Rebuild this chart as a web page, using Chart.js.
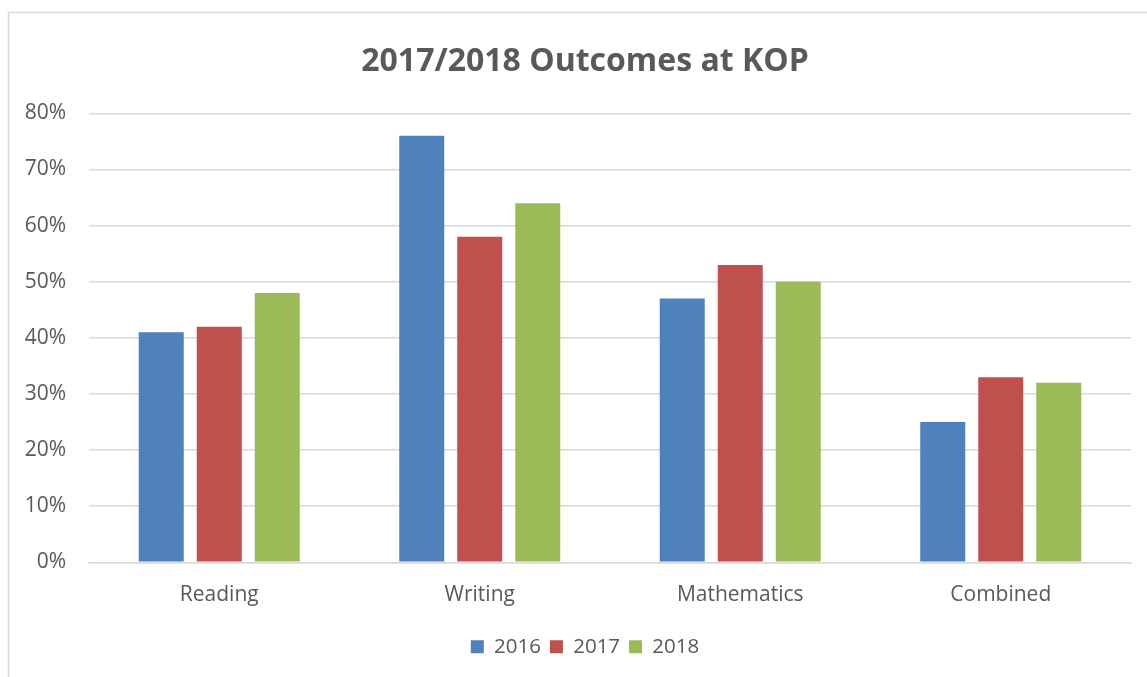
<!DOCTYPE html>
<html>
<head>
<meta charset="utf-8">
<script src="https://cdn.jsdelivr.net/npm/chart.js@4"></script>
<style>
html,body{margin:0;padding:0;background:#fff;}
#wrap{width:1147px;height:677px;position:relative;}
</style>
</head>
<body>
<div id="wrap"><canvas id="c" width="1147" height="677"></canvas></div>
<script>
const categories = ["Reading", "Writing", "Mathematics", "Combined"];
const series2016 = [41, 76, 47, 25];
const series2017 = [42, 58, 53, 33];
const series2018 = [48, 64, 50, 32];
const seriesNames = ["2016", "2017", "2018"];
const yTicks = [0, 10, 20, 30, 40, 50, 60, 70, 80];

const FONT = "'Open Sans', Lato, sans-serif";
const TXT = "#595959";

const frame = {
  id: "frame",
  beforeDraw(chart) {
    const ctx = chart.ctx;
    ctx.save();
    ctx.fillStyle = "#fff";
    ctx.fillRect(0, 0, chart.width, chart.height);
    ctx.strokeStyle = "#d9d9d9";
    ctx.lineWidth = 1.5;
    ctx.beginPath();
    ctx.moveTo(8.5, chart.height);
    ctx.lineTo(8.5, 12.5);
    ctx.lineTo(chart.width, 12.5);
    ctx.stroke();
    ctx.restore();
  }
};

new Chart(document.getElementById("c"), {
  type: "bar",
  data: {
    labels: categories,
    datasets: [
      { label: seriesNames[0], data: series2016, backgroundColor: "#4F81BD" },
      { label: seriesNames[1], data: series2017, backgroundColor: "#C0504D" },
      { label: seriesNames[2], data: series2018, backgroundColor: "#9BBB59" }
    ]
  },
  options: {
    responsive: false,
    animation: false,
    devicePixelRatio: 1,
    categoryPercentage: 0.668,
    barPercentage: 0.776,
    layout: { padding: { top: 26, left: 23, right: 0, bottom: 10 } },
    plugins: {
      title: {
        display: true,
        text: "2017/2018 Outcomes at KOP",
        color: TXT,
        font: { family: FONT, size: 32, weight: "bold" },
        padding: { top: 17, bottom: 32 }
      },
      legend: {
        position: "bottom",
        labels: {
          color: TXT,
          font: { family: FONT, size: 20.5 },
          boxWidth: 13,
          boxHeight: 13,
          padding: 9
        }
      },
      tooltip: { enabled: false }
    },
    scales: {
      x: {
        grid: { display: false, drawTicks: false },
        border: { display: true, color: "#d9d9d9", width: 1.5 },
        ticks: { color: TXT, font: { family: FONT, size: 21 }, padding: 20 }
      },
      y: {
        min: 0, max: 80,
        afterBuildTicks(scale) { scale.ticks = yTicks.map(v => ({ value: v })); },
        afterFit(scale) { scale.width = 66; },
        grid: { color: "#d9d9d9", lineWidth: 1.5, drawTicks: false },
        border: { display: false },
        ticks: {
          color: TXT, font: { family: FONT, size: 21 }, padding: 23,
          callback: v => v + "%"
        }
      },
      spacer: {
        type: "linear",
        position: "right",
        display: true,
        min: 0, max: 80,
        afterFit(scale) { scale.width = 16; },
        grid: { display: false, drawTicks: false },
        border: { display: false },
        ticks: { display: false }
      }
    }
  },
  plugins: [frame]
});
</script>
</body>
</html>
